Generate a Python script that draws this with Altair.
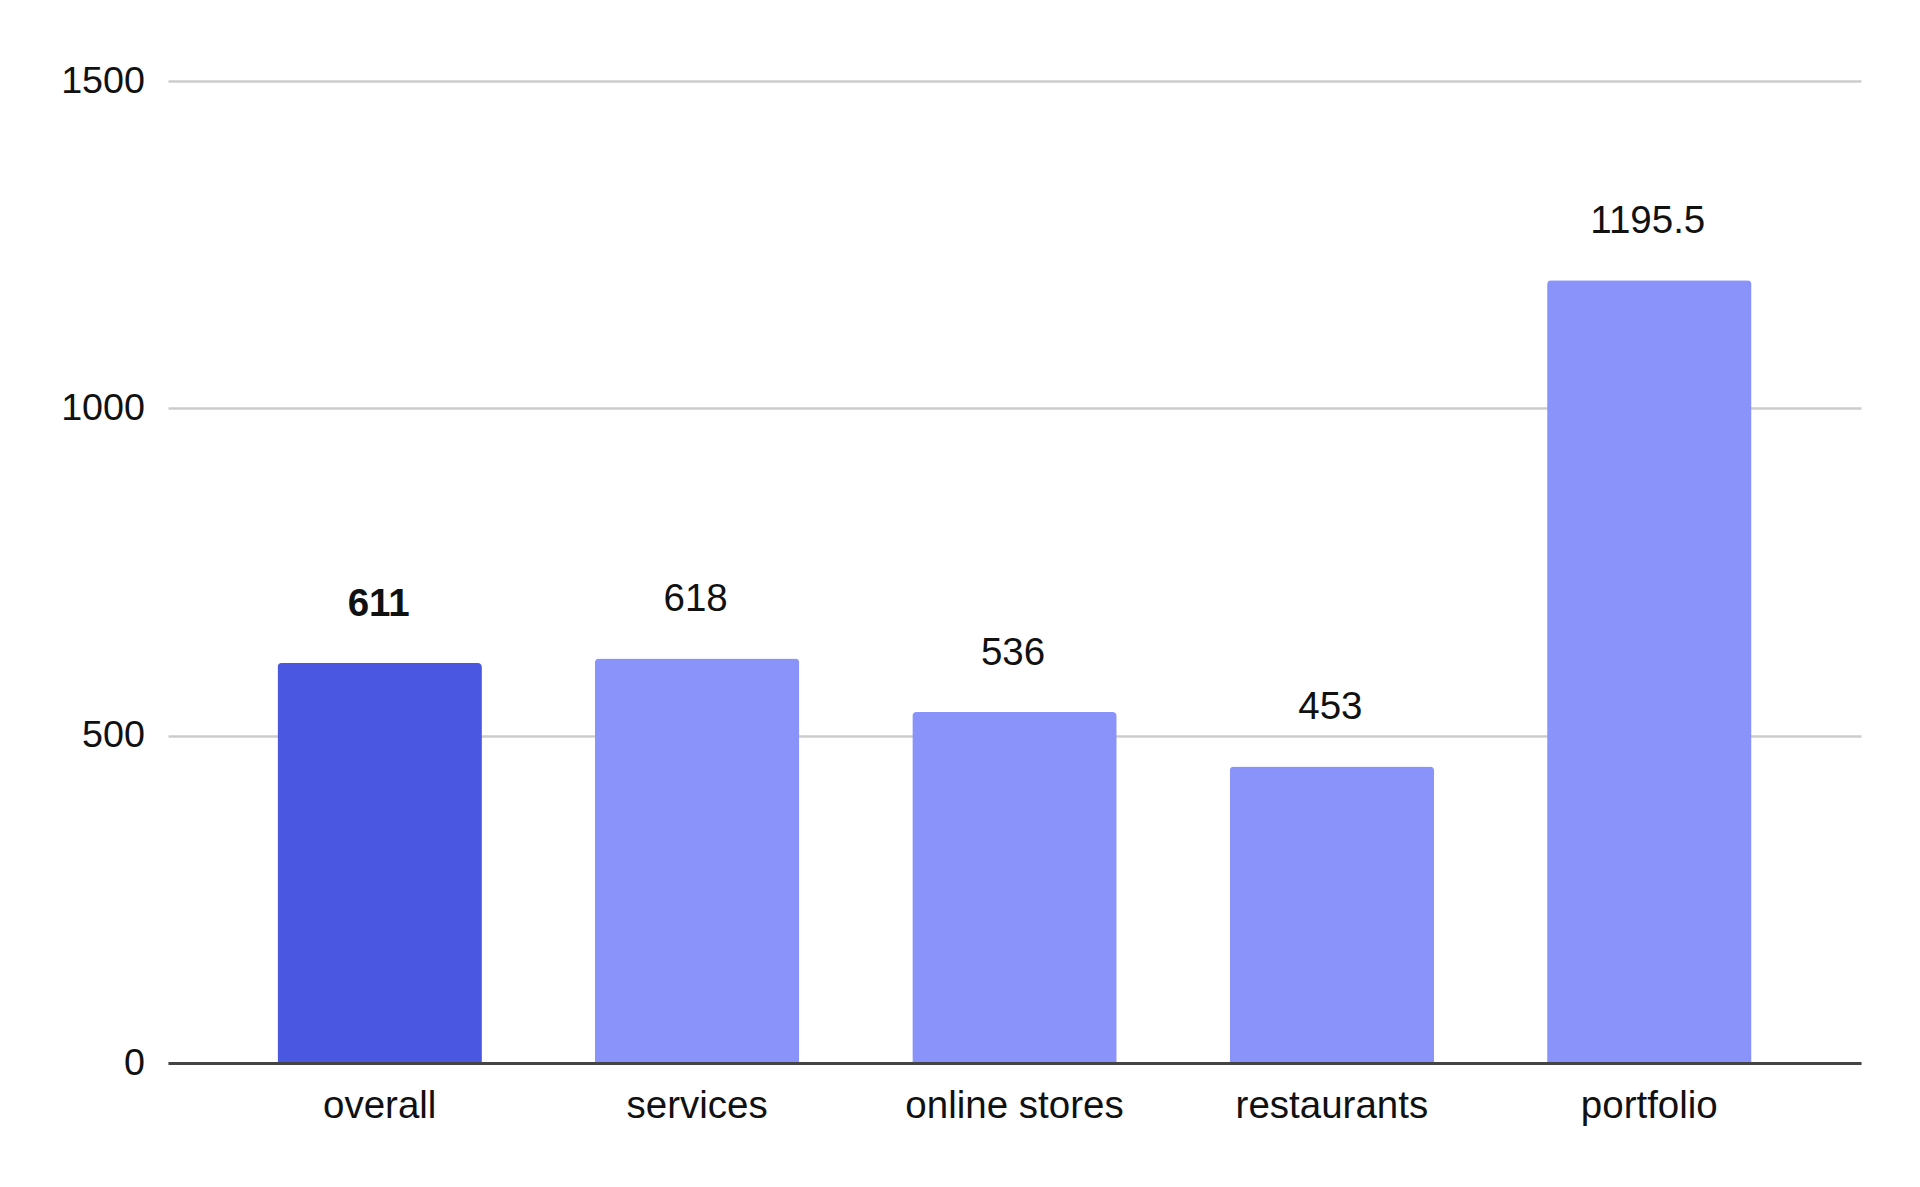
import altair as alt
import pandas as pd

categories = ["overall", "services", "online stores", "restaurants", "portfolio"]
values = [611, 618, 536, 453, 1195.5]
labels = ["611", "618", "536", "453", "1195.5"]
highlight = [True, False, False, False, False]

df = pd.DataFrame({"cat": categories, "value": values, "label": labels, "hl": highlight})

FONT = "Liberation Sans"

x_enc = alt.X("cat:N", sort=categories, title=None,
              scale=alt.Scale(paddingInner=0.356, paddingOuter=0.345),
              axis=alt.Axis(labelAngle=0, labelFontSize=38.5, labelFont=FONT, labelColor="#111111",
                            labelPadding=24.5, labelLimit=0, ticks=False, domainColor="#444444",
                            domainWidth=3, grid=False, zindex=1))
y_enc = alt.Y("value:Q", title=None,
              scale=alt.Scale(domain=[0, 1500], nice=False),
              axis=alt.Axis(values=[0, 500, 1000, 1500], format="d", labelFontSize=37.7, labelFont=FONT,
                            labelColor="#111111", labelPadding=23.5, ticks=False, domain=False,
                            gridColor="#cccccc", gridWidth=2.7))

bars = alt.Chart(df).mark_bar(cornerRadiusTopLeft=4, cornerRadiusTopRight=4).encode(
    x=x_enc,
    y=y_enc,
    color=alt.Color("hl:N", scale=alt.Scale(domain=[True, False], range=["#4a57e0", "#8a93fa"]), legend=None),
)

text_normal = alt.Chart(df).transform_filter("!datum.hl").mark_text(
    font=FONT, fontSize=38.5, color="#111111", baseline="alphabetic", dy=-47, dx=-1.5
).encode(x=alt.X("cat:N", sort=categories), y="value:Q", text="label:N")

text_bold = alt.Chart(df).transform_filter("datum.hl").mark_text(
    font=FONT, fontSize=38.5, fontWeight="bold", color="#111111", baseline="alphabetic", dy=-47, dx=-1
).encode(x=alt.X("cat:N", sort=categories), y="value:Q", text="label:N")

chart = alt.layer(bars, text_normal, text_bold).properties(
    width=1693, height=982,
    background="white",
    autosize=alt.AutoSizeParams(type="none"),
    padding={"left": 160, "top": 73, "right": 50, "bottom": 100},
).configure_view(stroke=None)

chart.save("out.html", embed_options={"renderer": "svg", "actions": False})
